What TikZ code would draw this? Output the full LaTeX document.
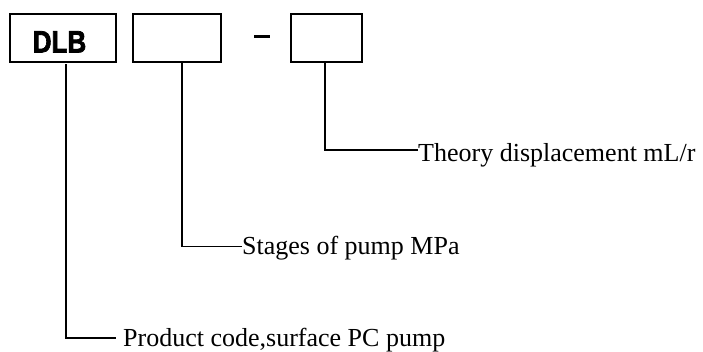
\documentclass[tikz,border=0pt]{standalone}
\usepackage{fontspec}
\setmainfont{Liberation Serif}
\newfontfamily\dlbfont[FakeBold=2.5]{Liberation Sans Bold}
\begin{document}
\begin{tikzpicture}[x=1pt,y=-1pt,
  codebox/.style={draw,line width=2pt,inner sep=0pt,anchor=north west},
  lead/.style={line width=1.8pt},
  lbl/.style={anchor=base west,inner sep=0pt,font=\fontsize{26}{30}\selectfont}]
\useasboundingbox (0,0) rectangle (703,351);
\node[codebox,minimum width=106pt,minimum height=48pt] (b1) at (9,13) {};
\node[inner sep=0pt,anchor=base] (t1) at (59.5,52.5) {\scalebox{0.84}[1]{\dlbfont\fontsize{31}{33}\selectfont DLB}};
\node[codebox,minimum width=88pt,minimum height=48pt] (b2) at (132,13) {};
\node[codebox,minimum width=71pt,minimum height=48pt] (b3) at (290,13) {};
\coordinate (d1) at (254,36.5);
\coordinate (d2) at (270,36.5);
\draw[line width=3pt] (d1) -- (d2);
\node[lbl] (l3) at (418,161) {Theory displacement mL/r};
\node[lbl] (l2) at (242,254) {Stages of pump MPa};
\node[lbl] (l1) at (123,346) {Product code,surface PC pump};
\coordinate (s1) at (66,64);
\coordinate (c1) at (66,338);
\coordinate (e1) at (116,338);
\coordinate (c2) at (182,246.5);
\coordinate (c3) at (325,150);
\draw[lead] (s1) -- (c1) -- (e1);
\draw[lead] (b2.south -| c2) -- (c2) -- (c2 -| l2.west);
\draw[lead] (b3.south -| c3) -- (c3) -- (c3 -| l3.west);
\end{tikzpicture}
\end{document}
